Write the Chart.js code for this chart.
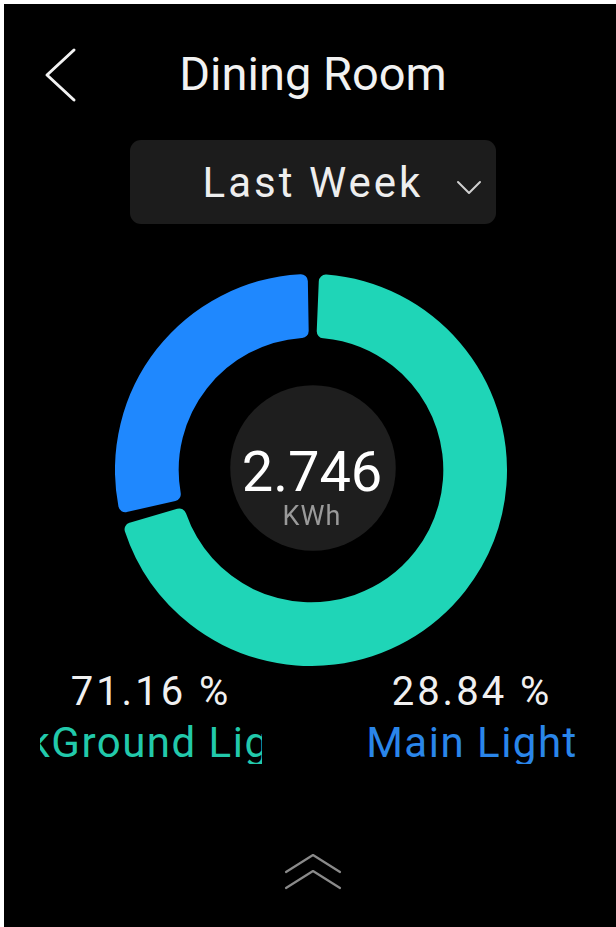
<!DOCTYPE html>
<html>
<head>
<meta charset="utf-8">
<script src="https://cdn.jsdelivr.net/npm/chart.js@4/dist/chart.umd.min.js"></script>
<style>
  html, body { margin: 0; padding: 0; }
  body { width: 616px; height: 927px; background: #ffffff; position: relative; overflow: hidden; font-family: Roboto, "Noto Sans", sans-serif; }
  #screen { position: absolute; left: 4px; top: 4px; width: 612px; height: 923px; background: #000000; }
  .abs { position: absolute; white-space: nowrap; line-height: 1; }
  #title { left: 0; width: 626px; top: 50px; font-size: 47px; color: #f2f2f2; text-align: center; }
  #picker { left: 130px; top: 140px; width: 366px; height: 84px; background: #1c1c1c; border-radius: 11px; }
  #range { left: 130px; width: 366px; top: 162px; font-size: 42px; letter-spacing: 3px; color: #eeeeee; text-align: center; }
  #chartBox { position: absolute; left: 115px; top: 274px; width: 392px; height: 392px; }
  #total { left: 212px; width: 200px; top: 444px; font-size: 56px; color: #ffffff; text-align: center; }
  #unit { left: 212px; width: 200px; top: 503px; font-size: 27px; letter-spacing: 1px; color: #9a9a9a; text-align: center; }
  .pct { top: 672px; font-size: 40px; letter-spacing: 3px; color: #f0f0f0; text-align: center; width: 222px; }
  .name { top: 722px; font-size: 42px; letter-spacing: 1.5px; text-align: center; width: 222px; overflow: hidden; }
  .name span { display: inline-block; }
  svg.icon { position: absolute; overflow: visible; }
</style>
</head>
<body>
<div id="screen"></div>

<svg class="icon" style="left:0;top:0" width="616" height="927">
  <!-- back arrow -->
  <polyline points="74,50 47,75 74,100" fill="none" stroke="#f2f2f2" stroke-width="3" stroke-linecap="round" stroke-linejoin="round"/>
</svg>
<div id="title" class="abs">Dining Room</div>

<div id="picker" class="abs"></div>
<div id="range" class="abs"></div>
<svg class="icon" style="left:0;top:0" width="616" height="927">
  <polyline points="458,182 469,193 480,182" fill="none" stroke="#cfcfcf" stroke-width="2" stroke-linecap="round" stroke-linejoin="round"/>
</svg>

<div id="chartBox"><canvas id="donut" width="392" height="392"></canvas></div>
<div id="total" class="abs"></div>
<div id="unit" class="abs"></div>

<div id="pct0" class="abs pct"></div>
<div id="pct1" class="abs pct"></div>
<div id="name0" class="abs name"><span></span></div>
<div id="name1" class="abs name"><span></span></div>

<svg class="icon" style="left:0;top:0" width="616" height="927">
  <!-- expand handle -->
  <polyline points="286,872 313,855 340,872" fill="none" stroke="#8a8a8a" stroke-width="2.2" stroke-linecap="round" stroke-linejoin="round"/>
  <polyline points="286,888 313,871 340,888" fill="none" stroke="#8a8a8a" stroke-width="2.2" stroke-linecap="round" stroke-linejoin="round"/>
</svg>

<script>
// Energy share per circuit for the selected period
const roomName = 'Dining Room';
const periodLabel = 'Last Week';
const categories = ['BackGround Light', 'Main Light'];
const sharePercent = [71.16, 28.84];
const totalKWh = 2.746;
const unitLabel = 'KWh';
const seriesColors = ['#1fd5b7', '#1f88fe'];
const labelColors = ['#22c9ab', '#2a86ea'];

document.getElementById('title').textContent = roomName;
document.getElementById('range').textContent = periodLabel;
document.getElementById('total').textContent = totalKWh.toFixed(3);
document.getElementById('unit').textContent = unitLabel;

// legend columns below the ring
const colLeft = [40, 361];
categories.forEach((name, i) => {
  const p = document.getElementById('pct' + i);
  p.style.left = colLeft[i] + 'px';
  p.textContent = sharePercent[i].toFixed(2) + ' %';
  const n = document.getElementById('name' + i);
  n.style.left = colLeft[i] + 'px';
  n.style.color = labelColors[i];
  n.firstElementChild.textContent = name;
});
// a long name scrolls inside its column; show it mid-scroll
const n0 = document.getElementById('name0').firstElementChild;
const over = n0.offsetWidth - 222;
if (over > 0) n0.style.marginLeft = (-over / 2 - 20) + 'px';

// dark disc behind the total
const centerDisc = {
  id: 'centerDisc',
  afterDatasetsDraw(chart) {
    const arc = chart.getDatasetMeta(0).data[0];
    if (!arc) return;
    const ctx = chart.ctx;
    ctx.save();
    ctx.beginPath();
    ctx.arc(arc.x + 2, arc.y - 2, arc.innerRadius * 0.64, 0, Math.PI * 2);
    ctx.fillStyle = '#1e1e1e';
    ctx.fill();
    ctx.restore();
  }
};

new Chart(document.getElementById('donut'), {
  type: 'doughnut',
  data: {
    labels: categories,
    datasets: [{
      data: sharePercent,
      backgroundColor: seriesColors,
      borderWidth: 0,
      spacing: 6,
      borderRadius: 7
    }]
  },
  options: {
    responsive: false,
    animation: false,
    cutout: '67%',
    rotation: 0,
    layout: { padding: 0 },
    plugins: { legend: { display: false }, tooltip: { enabled: false } },
    events: []
  },
  plugins: [centerDisc]
});
</script>
</body>
</html>
